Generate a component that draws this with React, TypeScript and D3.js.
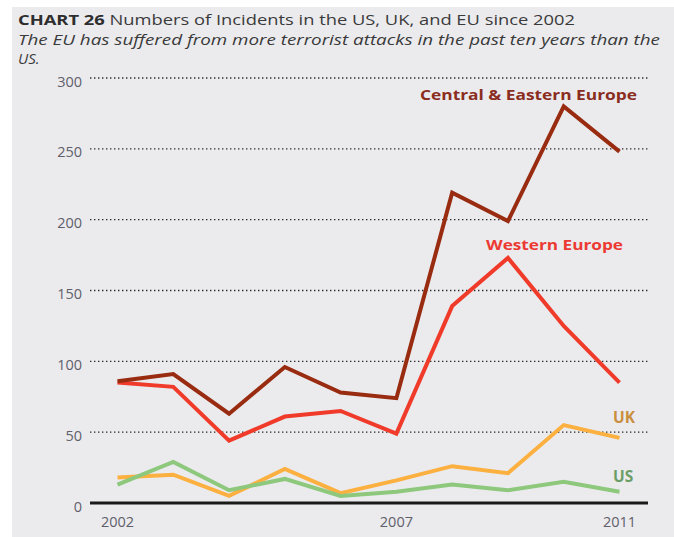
import React from "react";
import * as d3 from "d3";

const years = [2002, 2003, 2004, 2005, 2006, 2007, 2008, 2009, 2010, 2011];
const centralEastern = [86, 91, 63, 96, 78, 74, 219, 199, 280, 248];
const westernEurope = [85, 82, 44, 61, 65, 49, 139, 173, 125, 85];
const uk = [18, 20, 5, 24, 7, 16, 26, 21, 55, 46];
const us = [13, 29, 9, 17, 5, 8, 13, 9, 15, 8];
const yTicks = [0, 50, 100, 150, 200, 250, 300];
const xTickLabels = [2002, 2007, 2011];

const W = 674;
const H = 537;
const FONT = "'Open Sans', 'Noto Sans', sans-serif";

export default function App() {
  const x = d3.scaleLinear().domain([2002, 2011]).range([117.5, 619.5]);
  const y = d3.scaleLinear().domain([0, 300]).range([503, 78]);
  const line = d3
    .line<number>()
    .x((_, i) => x(years[i]))
    .y((d) => y(d));

  const series = [
    { name: "UK", values: uk, color: "#fbb040" },
    { name: "US", values: us, color: "#8dc87c" },
    { name: "Western Europe", values: westernEurope, color: "#f03b2a" },
    { name: "Central & Eastern Europe", values: centralEastern, color: "#982b10" },
  ];

  return (
    <svg
      width={W}
      height={H}
      style={{ position: "absolute", left: 0, top: 0 }}
      fontFamily={FONT}
    >
      <rect x={0} y={0} width={W} height={H} fill="#ffffff" />
      <rect x={12} y={7} width={W - 12} height={H - 7} fill="#ebebee" />

      <text x={18} y={24.5} fontSize={15} fill="#3a3a3a" textLength={557} lengthAdjust="spacingAndGlyphs">
        <tspan fontWeight="bold" fill="#2e2e2e">CHART 26</tspan>
        <tspan> Numbers of Incidents in the US, UK, and EU since 2002</tspan>
      </text>
      <text x={18} y={44.5} fontSize={15} fontStyle="italic" fill="#3a3a3a" textLength={642} lengthAdjust="spacingAndGlyphs">
        The EU has suffered from more terrorist attacks in the past ten years than the
      </text>
      <text x={18} y={64} fontSize={15} fontStyle="italic" fill="#3a3a3a">
        US.
      </text>

      {yTicks.filter((t) => t > 0).map((t) => (
        <line
          key={"g" + t}
          x1={90}
          x2={648}
          y1={y(t)}
          y2={y(t)}
          stroke="#2a2a2a"
          strokeWidth={1.4}
          strokeDasharray="1.4,2.6"
        />
      ))}
      {yTicks.map((t) => (
        <text
          key={"yt" + t}
          x={82}
          y={y(t) + 8.5}
          fontSize={14.5}
          textAnchor="end"
          fill="#5f606a"
        >
          {t}
        </text>
      ))}
      {xTickLabels.map((t) => (
        <text
          key={"xt" + t}
          x={x(t)}
          y={526.5}
          fontSize={14.5}
          textAnchor="middle"
          fill="#5f606a"
        >
          {t}
        </text>
      ))}

      {series.map((s) => (
        <path
          key={s.name}
          d={line(s.values) || ""}
          fill="none"
          stroke={s.color}
          strokeWidth={4}
          strokeLinejoin="miter"
        />
      ))}

      <line x1={90} x2={648} y1={y(0)} y2={y(0)} stroke="#1a1a1a" strokeWidth={3} />

      <text x={420} y={100} fontSize={15} fontWeight="bold" fill="#8a2d1e" textLength={217} lengthAdjust="spacingAndGlyphs">
        Central &amp; Eastern Europe
      </text>
      <text x={486} y={249.5} fontSize={15} fontWeight="bold" fill="#ec3a33" textLength={137} lengthAdjust="spacingAndGlyphs">
        Western Europe
      </text>
      <text x={613} y={422.5} fontSize={15.5} fontWeight="bold" fill="#c98f40">
        UK
      </text>
      <text x={613} y={481.5} fontSize={15.5} fontWeight="bold" fill="#6b9e66">
        US
      </text>
    </svg>
  );
}
